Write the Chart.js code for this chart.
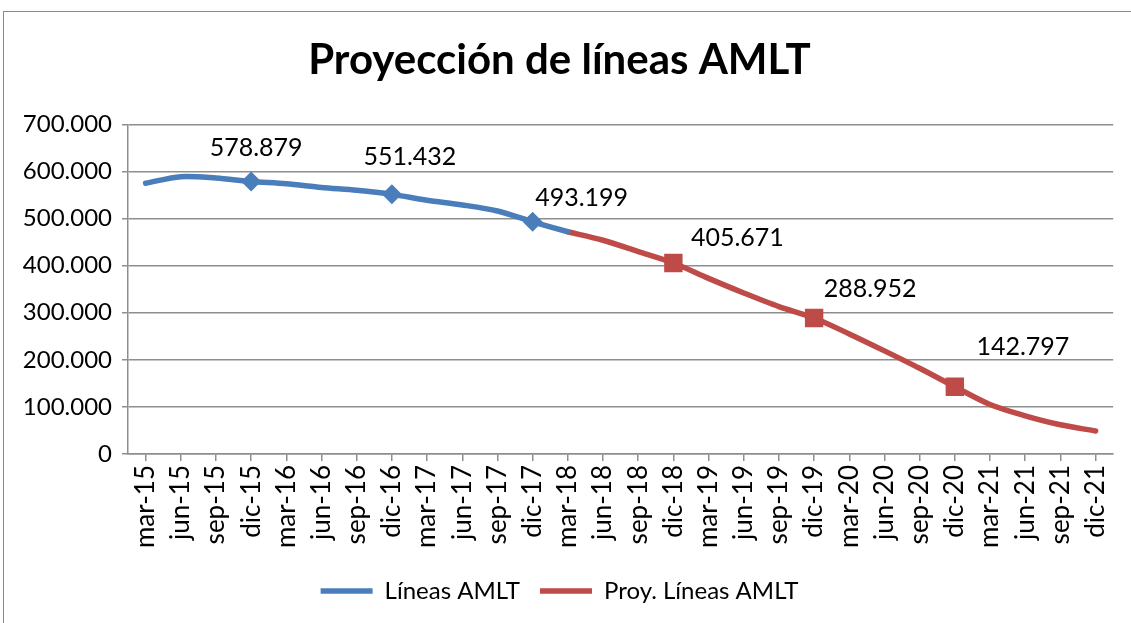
<!DOCTYPE html>
<html>
<head>
<meta charset="utf-8">
<script src="https://cdn.jsdelivr.net/npm/chart.js@4/dist/chart.umd.min.js"></script>
<style>
  html, body { margin: 0; padding: 0; background: #fff; }
  #wrap { position: relative; width: 1131px; height: 623px; overflow: hidden; }
  #frame { position: absolute; left: 3px; top: 11px; width: 1140px; height: 700px; border: 1.5px solid #8a8a8a; pointer-events: none; }
  canvas { position: absolute; left: 0; top: 0; }
</style>
</head>
<body>
<div id="wrap">
  <canvas id="chart" width="1131" height="623"></canvas>
  <div id="frame"></div>
</div>
<script>
// Quarterly categories
const categories = ['mar-15', 'jun-15', 'sep-15', 'dic-15', 'mar-16', 'jun-16', 'sep-16', 'dic-16',
  'mar-17', 'jun-17', 'sep-17', 'dic-17', 'mar-18', 'jun-18', 'sep-18', 'dic-18',
  'mar-19', 'jun-19', 'sep-19', 'dic-19', 'mar-20', 'jun-20', 'sep-20', 'dic-20',
  'mar-21', 'jun-21', 'sep-21', 'dic-21'];

// Real lines mar-15 .. mar-18
const lineas = [575000, 589000, 586000, 578879, 574000, 566000, 560000, 551432,
  539000, 529000, 516000, 493199, 472000];

// Projection mar-18 .. dic-21
const proyeccion = [472000, 454000, 430000, 405671, 373000, 342000, 313000, 288952,
  255000, 219000, 182000, 142797, 105000, 81000, 62000, 49000];

const yTicks = [0, 100000, 200000, 300000, 400000, 500000, 600000, 700000];

// points that get a marker + value label
const markedLineas = [3, 7, 11];
const markedProy = [15, 19, 23];

const blue = '#4A7EBB';
const red = '#BE4B48';
const grid = '#8e8e8e';
const font = 'Lato, Calibri, sans-serif';

const fmt = v => v.toLocaleString('de-DE');

// pad series to full category length
const lineasData = lineas.concat(Array(categories.length - lineas.length).fill(null));
const proyData = Array(categories.length - proyeccion.length).fill(null).concat(proyeccion);

// label offset from marker (dx, dy)
const labelOffsets = {
  0: { 3: [5, -33], 7: [18, -37], 11: [49, -24] },
  1: { 15: [64, -25], 19: [56, -29], 23: [68, -40] }
};

const valueLabels = {
  id: 'valueLabels',
  afterDatasetsDraw(chart) {
    const ctx = chart.ctx;
    ctx.save();
    ctx.font = '25px ' + font;
    ctx.fillStyle = '#000';
    ctx.textAlign = 'center';
    ctx.textBaseline = 'middle';
    chart.data.datasets.forEach((ds, di) => {
      const meta = chart.getDatasetMeta(di);
      Object.keys(labelOffsets[di]).forEach(k => {
        const i = +k;
        const el = meta.data[i];
        const [dx, dy] = labelOffsets[di][k];
        ctx.fillText(fmt(ds.data[i]), el.x + dx, el.y + dy);
      });
    });
    ctx.restore();
  }
};

new Chart(document.getElementById('chart'), {
  type: 'line',
  data: {
    labels: categories,
    datasets: [{
      label: 'Líneas AMLT',
      data: lineasData,
      borderColor: blue,
      backgroundColor: blue,
      borderWidth: 5.5,
      borderCapStyle: 'round',
      tension: 0.3,
      pointStyle: 'rectRot',
      pointRadius: ctx => markedLineas.includes(ctx.dataIndex) ? 10 : 0,
      pointBorderWidth: ctx => markedLineas.includes(ctx.dataIndex) ? 0 : 5.5
    }, {
      label: 'Proy. Líneas AMLT',
      data: proyData,
      borderColor: red,
      backgroundColor: red,
      borderWidth: 5.5,
      borderCapStyle: 'round',
      tension: 0.3,
      pointStyle: 'rect',
      pointRadius: ctx => markedProy.includes(ctx.dataIndex) ? 13 : 0,
      pointBorderWidth: ctx => markedProy.includes(ctx.dataIndex) ? 0 : 5.5
    }]
  },
  options: {
    responsive: false,
    animation: false,
    layout: { padding: { left: 0, right: 12, top: 0, bottom: 10 } },
    plugins: {
      title: {
        display: true,
        text: 'Proyección de líneas AMLT',
        color: '#000',
        font: { family: font, size: 42, weight: 'bold', lineHeight: 1.2 },
        padding: { top: 35, bottom: 39 }
      },
      legend: {
        position: 'bottom',
        labels: {
          color: '#000',
          font: { family: font, size: 24 },
          usePointStyle: true,
          pointStyle: 'line',
          pointStyleWidth: 52,
          boxHeight: 24,
          padding: 20
        }
      },
      tooltip: { enabled: false }
    },
    scales: {
      x: {
        offset: true,
        afterFit: s => { s.height = 105; },
        grid: { display: true, drawOnChartArea: false, offset: false, color: grid, lineWidth: 1.5, tickLength: 7 },
        border: { color: grid, width: 1.5 },
        ticks: { color: '#000', font: { family: font, size: 26 }, minRotation: 90, maxRotation: 90, autoSkip: false, padding: 4 }
      },
      y: {
        min: 0,
        max: 700000,
        afterFit: s => { s.width = 128; },
        afterBuildTicks: s => { s.ticks = yTicks.map(v => ({ value: v })); },
        grid: { color: grid, lineWidth: 1.5, tickLength: 6 },
        border: { color: grid, width: 1.5 },
        ticks: { color: '#000', font: { family: font, size: 24 }, padding: 10, callback: v => fmt(v) }
      }
    }
  },
  plugins: [valueLabels]
});
</script>
</body>
</html>
